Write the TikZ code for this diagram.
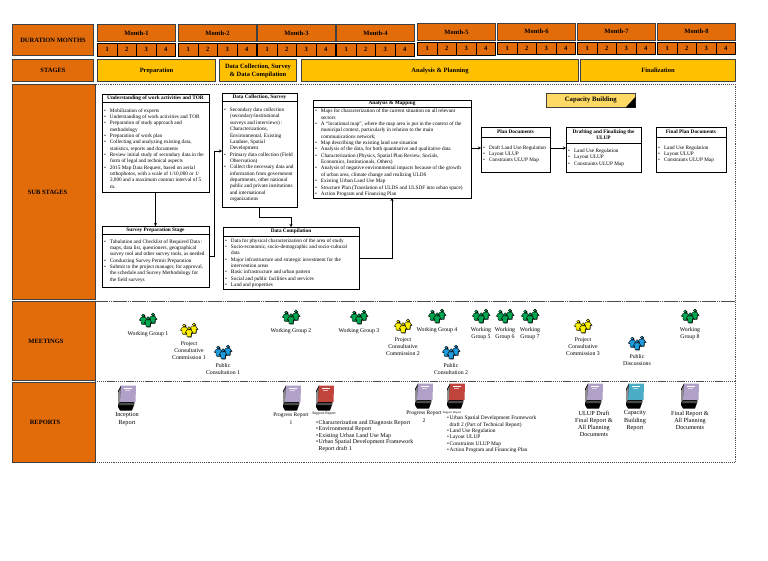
\documentclass[tikz,border=0pt]{standalone}
\usepackage{fontspec}
\setmainfont{Liberation Serif}
\usetikzlibrary{arrows.meta,positioning}
\definecolor{MonthOrange}{HTML}{E36C0A}
\definecolor{StageYellow}{HTML}{FFC000}
\definecolor{CapacitySand}{HTML}{FFD966}
\definecolor{GroupGreen}{HTML}{00A650}
\definecolor{GroupYellow}{HTML}{FFF200}
\definecolor{GroupBlue}{HTML}{1E9BDC}
\definecolor{ReportPurple}{HTML}{B1A0C7}
\definecolor{ReportRed}{HTML}{C0443C}
\definecolor{ReportTeal}{HTML}{4BACC6}
\newlength{\bulletgap}
\setlength{\bulletgap}{6pt}
\newcommand{\bl}[1]{\par\hangindent=\bulletgap\hangafter=1\noindent\makebox[\bulletgap][l]{\textbullet}#1\par}
\newcommand{\bodytext}[4]{\parbox[c][#2pt][t]{#1pt}{\vspace*{#3pt}\fontsize{5.25}{6.35}\selectfont\raggedright #4}}
\tikzset{
  pics/people/.style={code={
    \foreach \px/\py in {-4.8/-1.5,4.8/-2.5,0/1.2} {
      \begin{scope}[shift={(\px,\py)}]
        \fill[black] (0.6,-3.5) circle (1.8);
        \fill[black] (-1.4,-1.7) -- (2.6,-1.7) -- (4.6,1.4) -- (2.9,1.1) -- (2.6,5.1) -- (-1.4,5.1) -- (-1.7,1.1) -- (-3.4,1.4) -- cycle;
        \filldraw[fill=#1, draw=black, line width=.3pt] (0,-4) circle (1.5);
        \filldraw[fill=#1, draw=black, line width=.3pt] (-2,-2.3) -- (2,-2.3) -- (4,.8) -- (2.3,.5) -- (2,4.5) -- (-2,4.5) -- (-2.3,.5) -- (-4,.8) -- cycle;
      \end{scope}
    }
  }},
  pics/report/.style={code={
    \fill[black] (-9,-7) -- (-6,-12.5) -- (8,0) -- (7,7) -- (5,12.5) -- (-7,12.5) -- (-9,9) -- cycle;
    \fill[black!45] (-9,-5) -- (-6.5,-10) -- (-6.5,3) -- (-9,7) -- cycle;
    \fill[black!70] (-7,5) -- (7.5,5) -- (7,7) -- (-8,7) -- cycle;
    \fill[#1] (-6,-12.5) -- (9,-12.5) -- (8.5,4) -- (-7,4) -- cycle;
    \draw[white, line width=.6pt] (-3,-9.5) -- (5,-9.5);
    \draw[white!60!#1, line width=.5pt] (-2,-7.5) -- (3,-7.5);
  }}
}

\begin{document}
\begin{tikzpicture}[
    x=1pt, y=-1pt,
    headbox/.style={draw=black!75, fill=MonthOrange, line width=1pt, inner sep=0pt, anchor=north west, font=\fontsize{6.5}{8}\selectfont\bfseries, align=center},
    stagebox/.style={headbox, fill=StageYellow},
    panel/.style={draw=black!70, densely dotted, line width=.9pt, anchor=north west, inner sep=0pt},
    boxhead/.style={draw=black, line width=.7pt, inner sep=0pt, outer sep=0pt, anchor=north west, align=center, font=\fontsize{5.3}{6.2}\selectfont\bfseries},
    boxbody/.style={draw=black, line width=.7pt, inner xsep=2pt, inner ysep=0pt, outer sep=0pt},
    arrow/.style={-{Stealth[length=3pt,width=3pt]}, line width=.8pt, color=black},
    grouplabel/.style={inner sep=0pt, anchor=north, align=center, font=\fontsize{5.8}{7.2}\selectfont},
    reportlabel/.style={inner sep=0pt, anchor=north, align=center, font=\fontsize{6.2}{7.3}\selectfont},
    progresslabel/.style={reportlabel, font=\fontsize{5.5}{7.5}\selectfont},
    tinylabel/.style={inner sep=0pt, font=\fontsize{3.8}{4.5}\selectfont}
  ]
    \useasboundingbox (0,0) rectangle (768,560);

    % panels behind the rows
    \node[panel, minimum width=640, minimum height=217] (subpanel) at (95,84) {};
    \node[panel, minimum width=640, minimum height=80] (meetpanel) at (95,301) {};
    \node[panel, minimum width=640, minimum height=81] (reportpanel) at (95,381) {};

    % left column
    \node[headbox, minimum width=81, minimum height=31] (duration) at (12,24) {DURATION MONTHS};
    \node[headbox, minimum width=81, minimum height=22] (stages) at (12,59) {STAGES};
    \node[headbox, minimum width=83, minimum height=215] (substages) at (12,84) {SUB STAGES\hspace{13pt}};
    \node[headbox, minimum width=83, minimum height=79] (meetings) at (12,301) {MEETINGS\hspace{16pt}};
    \node[headbox, minimum width=83, minimum height=80] (reports) at (12,382) {REPORTS\hspace{18pt}};

    % months and weeks
    \foreach \m/\mx/\my in {1/97/24,2/178/24,3/257/24,4/336/24,5/417/23,6/497/22.5,7/577/22.5,8/657/22.5} {
      \node[headbox, minimum width=78, minimum height=17] (month\m) at (\mx,\my) {Month-\m};
      \foreach \w in {1,...,4} {
        \node[headbox, draw=black, minimum width=19.5, minimum height=12.5] (week\m\w) at (\mx+\w*19.5-19.5,\my+19) {\w};
      }
    }

    % stages
    \node[stagebox, minimum width=118, minimum height=22] (preparation) at (97,59) {Preparation};
    \node[stagebox, minimum width=77, minimum height=22] (collection) at (219,59) {Data Collection, Survey\\\& Data Compilation};
    \node[stagebox, minimum width=277, minimum height=22] (analysis) at (301,59) {Analysis \& Planning};
    \node[stagebox, minimum width=155, minimum height=22] (finalization) at (580,59) {Finalization};

    % sub stage boxes
    \node[boxhead, minimum width=107, minimum height=8] (understand) at (102,94) {Understanding of work activities and TOR};
    \node[boxbody, below=0pt of understand] (understandbody) {\bodytext{103}{90}{6.3}{
      \bl{Mobilization of experts}
      \bl{Understanding of work activities and TOR}
      \bl{Preparation of study approach and\newline methodology}
      \bl{Preparation of work plan}
      \bl{Collecting and analyzing existing data,\newline statistics, reports and documents}
      \bl{Review initial study of secondary data in the\newline form of legal and technical aspects}
      \bl{2015 Map Data Request, based on aerial\newline orthophotos, with a scale of 1/10,000 or 1/\newline 2,000 and a maximum contour interval of 5\newline m.}}};

    \node[boxhead, minimum width=75, minimum height=8] (collect) at (222,93) {Data Collection, Survey};
    \node[boxbody, below=0pt of collect] (collectbody) {\bodytext{71}{106}{7}{
      \bl{Secondary data collection\newline (secondary/institutional\newline surveys and interviews) :\newline Characterizations,\newline Environmental, Existing\newline Landuse, Spatial\newline Development}
      \bl{Primary data collection (Field\newline Observation)}
      \bl{Collect the necessary data and\newline information from government\newline departments, other national\newline public and private institutions\newline and international\newline organizations}}};

    \node[boxhead, minimum width=107, minimum height=8] (survey) at (102,226) {Survey Preparation Stage};
    \node[boxbody, below=0pt of survey] (surveybody) {\bodytext{103}{53}{5.3}{
      \bl{Tabulation and Checklist of Required Data :\newline maps, data list, questioners, geographical\newline survey tool and other survey tools, as needed}
      \bl{Conducting Survey Permit Preparation}
      \bl{Submit to the project manager, for approval,\newline the schedule and Survey Methodology for\newline the field surveys}}};

    \node[boxhead, minimum width=136, minimum height=9] (compile) at (223,227) {Data Compilation};
    \node[boxbody, below=0pt of compile] (compilebody) {\bodytext{132}{53}{2.3}{
      \bl{Data for physical characterization of the area of study}
      \bl{Socio-economic, socio-demographic and socio-cultural\newline data}
      \bl{Major infrastructure and strategic investment for the\newline intervention areas}
      \bl{Basic infrastructure and urban pattern}
      \bl{Social and public facilities and services}
      \bl{Land and properties}}};

    \node[boxhead, minimum width=158, minimum height=7] (mapping) at (313,100) {Analysis \& Mapping};
    \node[boxbody, below=0pt of mapping] (mappingbody) {\bodytext{154}{91}{2.1}{
      \bl{Maps for characterization of the current situation on all relevant\newline sectors}
      \bl{A “locational map”, where the map area is put in the context of the\newline municipal context, particularly in relation to the main\newline communications network;}
      \bl{Map describing the existing land use situation}
      \bl{Analysis of the data, for both quantitative and qualitative data}
      \bl{Characterization (Physics,  Spatial Plan Review, Socials,\newline Economics, Institutionals, Others)}
      \bl{Analysis of negative environmental impacts because of the growth\newline of urban area, climate change and realizing ULDS}
      \bl{Existing Urban Land Use Map}
      \bl{Structure Plan (Translation of ULDS and ULSDF into urban space)}
      \bl{Action Program and Financing Plan}}};

    \node[boxhead, minimum width=69, minimum height=10] (plandoc) at (481,127) {Plan Documents};
    \node[boxbody, below=0pt of plandoc] (plandocbody) {\bodytext{65}{35}{8.5}{
      \bl{Draft Land Use Regulation}
      \bl{Layout ULUP}
      \bl{Constraints ULUP Map}}};

    \node[boxhead, minimum width=75, minimum height=16] (drafting) at (566,127) {Drafting and  Finalizing the\\ULUP};
    \node[boxbody, below=0pt of drafting] (draftingbody) {\bodytext{71}{29}{5.8}{
      \bl{Land Use Regulation}
      \bl{Layout ULUP}
      \bl{Constraints ULUP Map}}};

    \node[boxhead, minimum width=70, minimum height=10] (finalplan) at (656,127) {Final Plan Documents};
    \node[boxbody, below=0pt of finalplan] (finalplanbody) {\bodytext{66}{35}{8.5}{
      \bl{Land Use Regulation}
      \bl{Layout ULUP}
      \bl{Constraints ULUP Map}}};

    \node[draw=black!75, fill=CapacitySand, line width=.6pt, minimum width=89, minimum height=14, inner sep=0pt, anchor=north west, font=\fontsize{6.7}{8}\selectfont\bfseries] (capacity) at (546,93) {Capacity Building};
    \fill[black] (capacity.south east) -- ([yshift=11pt]capacity.south east) -- ([xshift=-10pt]capacity.south east) -- cycle;

    % connectors
    \draw[arrow] (understandbody.south) -- (survey.north);
    \draw[arrow] ([yshift=4pt]surveybody.east) -- ++(5,0) |- ([yshift=3pt]collectbody.west);
    \draw[arrow] (collectbody.south) -- ++(0,10) -| (compile.north);
    \draw[arrow] ([yshift=4pt]compilebody.east) -| (mappingbody.south);
    \draw[arrow] ([yshift=4.5pt]mappingbody.east) -- ([yshift=6.5pt]plandocbody.west);
    \draw[arrow] ([yshift=6.5pt]plandocbody.east) -- ([yshift=9.5pt]draftingbody.west);

    % meetings
    \foreach \gname/\gx/\gy/\gc/\gt in {
      wgone/148/321/GroupGreen/{Working Group 1},
      pccone/189/331/GroupYellow/{Project\\Consultative\\Commission 1},
      pcone/223/353/GroupBlue/{Public\\Consultation 1},
      wgtwo/291/318/GroupGreen/{Working Group 2},
      wgthree/359/318/GroupGreen/{Working Group 3},
      pcctwo/403/327/GroupYellow/{Project\\Consultative\\Commission 2},
      wgfour/437/317/GroupGreen/{Working Group 4},
      pctwo/451/353/GroupBlue/{Public\\Consultation 2},
      wgfive/481/317/GroupGreen/{Working\\Group 5},
      wgsix/505/317/GroupGreen/{Working\\Group 6},
      wgseven/530/317/GroupGreen/{Working\\Group 7},
      pccthree/583/327/GroupYellow/{Project\\Consultative\\Commission 3},
      discussions/637/344/GroupBlue/{Public\\Discussions},
      wgeight/690/317/GroupGreen/{Working\\Group 8}} {
      \pic at (\gx,\gy) {people=\gc};
      \node[grouplabel] (\gname) at (\gx,\gy+10) {\gt};
    }

    % reports
    \foreach \rname/\rx/\ry/\rc/\rt in {
      inception/127/398/ReportPurple/{Inception\\Report},
      ulupdraft/594/396/ReportPurple/{ULUP Draft\\Final Report \&\\All Planning\\Documents},
      capacityrep/635/396/ReportTeal/{Capacity\\Building\\Report},
      finalrep/690/396/ReportPurple/{Final Report \&\\All Planning\\Documents}} {
      \pic at (\rx,\ry) {report=\rc};
      \node[reportlabel] (\rname) at (\rx,\ry+14.5) {\rt};
    }
    \pic at (292,398) {report=ReportPurple};
    \pic at (424,396) {report=ReportPurple};
    \node[progresslabel] (progressone) at (291,413) {Progress Report\\1};
    \node[progresslabel] (progresstwo) at (424,411) {Progress Report\\2};
    \pic at (325,398) {report=ReportRed};
    \pic at (456,396) {report=ReportRed};
    \node[tinylabel] (supportone) at (324,414) {Support Report};
    \node[tinylabel, font=\fontsize{3}{4}\selectfont] (supporttwo) at (452,413) {Support Report};

    \node[inner sep=0pt, anchor=north west] (listone) at (316,420) {\setlength{\bulletgap}{2.5pt}\parbox{118pt}{\fontsize{5.9}{6.5}\selectfont\raggedright
      \bl{Characterization and Diagnosis Report}
      \bl{Environmental Report}
      \bl{Existing Urban Land Use Map}
      \bl{Urban Spatial Development Framework\newline Report draft 1}}};
    \node[inner sep=0pt, anchor=north west] (listtwo) at (447,416) {\setlength{\bulletgap}{2.5pt}\parbox{105pt}{\fontsize{5.4}{6.3}\selectfont\raggedright
      \bl{Urban Spatial Development Framework\newline draft 2 (Part of Technical Report)}
      \bl{Land Use Regulation}
      \bl{Layout ULUP}
      \bl{Constraints ULUP Map}
      \bl{Action Program and Financing Plan}}};
  \end{tikzpicture}
\end{document}
